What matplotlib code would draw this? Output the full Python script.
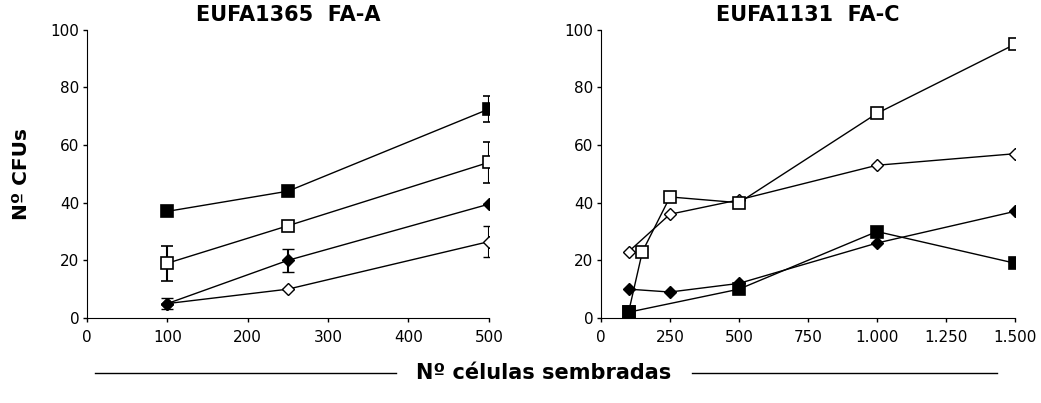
import matplotlib.pyplot as plt
from matplotlib.lines import Line2D
from matplotlib.ticker import FuncFormatter

# EUFA1365 FA-A
x_a = [100, 250, 500]
a_sq_fill = [37, 44, 72.5]
a_sq_fill_err = [0, 0, 4.5]
a_sq_open = [19, 32, 54]
a_sq_open_err = [6, 0, 7]
a_dia_fill = [5, 20, 39.5]
a_dia_fill_err = [2, 4, 0]
a_dia_open = [5, 10, 26.5]
a_dia_open_err = [0, 0, 5.5]

# EUFA1131 FA-C
c_sq_open_x = [100, 150, 250, 500, 1000, 1500]
c_sq_open = [2, 23, 42, 40, 71, 95]
c_sq_fill_x = [100, 500, 1000, 1500]
c_sq_fill = [2, 10, 30, 19]
c_dia_x = [100, 250, 500, 1000, 1500]
c_dia_fill = [10, 9, 12, 26, 37]
c_dia_open = [23, 36, 41, 53, 57]

plt.rcParams['font.family'] = 'DejaVu Sans'
fig = plt.figure(figsize=(10.41, 4.03), dpi=100)
ax1 = fig.add_axes([0.0836, 0.211, 0.386, 0.715])
ax2 = fig.add_axes([0.5773, 0.211, 0.3977, 0.715])

def style(ax, xmax, xticks):
    ax.set_xlim(0, xmax)
    ax.set_ylim(0, 100)
    ax.set_xticks(xticks)
    ax.set_yticks([0, 20, 40, 60, 80, 100])
    ax.spines['top'].set_visible(False)
    ax.spines['right'].set_visible(False)
    ax.tick_params(direction='out', length=3, width=1, labelsize=11)
    ax.tick_params(axis='x', pad=6)
    ax.tick_params(axis='y', pad=2.5)

sq = dict(marker='s', markersize=8, markeredgewidth=1.2, color='black', lw=1)
dm = dict(marker='D', markersize=6, markeredgewidth=1, color='black', lw=1)
eb = dict(ecolor='black', elinewidth=1.5, capsize=4, capthick=1.5)

ax1.errorbar(x_a, a_dia_open, yerr=a_dia_open_err, mfc='white', mec='black', **dm, **eb)
ax1.errorbar(x_a, a_dia_fill, yerr=a_dia_fill_err, mfc='black', mec='black', **dm, **eb)
ax1.errorbar(x_a, a_sq_open, yerr=a_sq_open_err, mfc='white', mec='black', **sq, **eb)
ax1.errorbar(x_a, a_sq_fill, yerr=a_sq_fill_err, mfc='black', mec='black', **sq, **eb)
style(ax1, 500, [0, 100, 200, 300, 400, 500])
ax1.set_title('EUFA1365  FA-A', fontsize=15, fontweight='bold', pad=6)
ax1.set_ylabel('Nº CFUs', fontsize=14.5, fontweight='bold', labelpad=14)

ax2.plot(c_dia_x, c_dia_open, mfc='white', mec='black', **dm)
ax2.plot(c_sq_open_x, c_sq_open, mfc='white', mec='black', **sq)
ax2.plot(c_dia_x, c_dia_fill, mfc='black', mec='black', **dm)
ax2.plot(c_sq_fill_x, c_sq_fill, mfc='black', mec='black', **sq)
style(ax2, 1500, [0, 250, 500, 750, 1000, 1250, 1500])
ax2.xaxis.set_major_formatter(FuncFormatter(lambda v, p: f'{int(v):,}'.replace(',', '.')))
ax2.set_title('EUFA1131  FA-C', fontsize=15, fontweight='bold', pad=6)

fig.text(0.522, 0.075, 'Nº células sembradas', ha='center', va='center',
         fontsize=15, fontweight='bold')
fig.add_artist(Line2D([0.091, 0.38], [0.075, 0.075], color='black', lw=1))
fig.add_artist(Line2D([0.665, 0.958], [0.075, 0.075], color='black', lw=1))

fig.savefig('out.png', dpi=100)
